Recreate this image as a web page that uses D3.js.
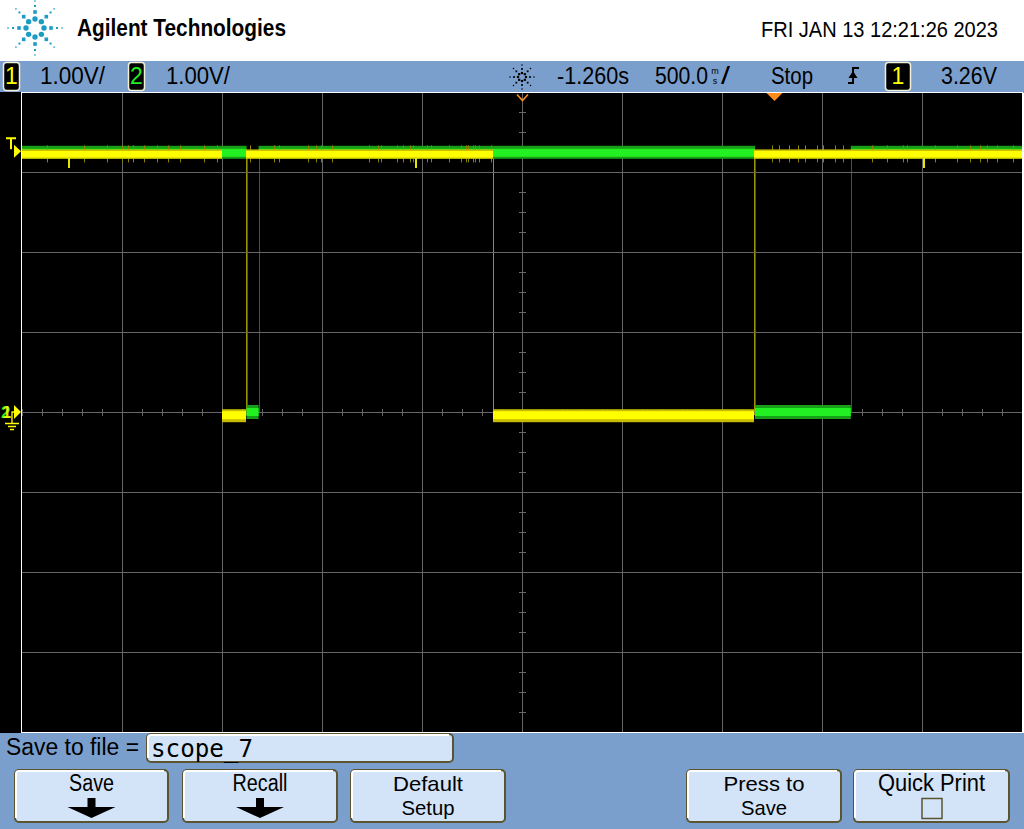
<!DOCTYPE html>
<html><head><meta charset="utf-8">
<script src="https://cdn.jsdelivr.net/npm/d3@7"></script>
<style>
html,body{margin:0;padding:0;background:#fff;overflow:hidden}
svg{display:block}
text{font-family:"Liberation Sans Narrow","Arial Narrow","Liberation Sans",Arial,sans-serif}
</style></head><body>
<svg id="c" width="1024" height="829"></svg>
<script>
const timeCenter = -1.260;      // s
const timePerDiv = 0.5;         // 500 ms/div
const voltsPerDiv = 1.0;        // both channels 1.00 V/div
const triggerLevel = 3.26;      // V
const triggerTime = 0;          // s
const ch1Edges  = [-3.76, -2.76, -2.64, -1.405, -0.10, 1.24];
const ch1Levels = [3.22, -0.04, 3.22, -0.04, 3.22];
const ch2Edges  = [-3.76, -2.637, -2.577, -0.095, 0.384, 1.24];
const ch2Levels = [3.24, 0.0, 3.24, 0.0, 3.24];
const ch1GlitchTimes = [-3.525, -1.79, 0.75];
const ch1GlitchVolts = [3.05, 3.05, 3.05];
const ch1NoiseTimes = [-3.635,-3.45,-3.335,-3.26,-3.23,-3.205,-3.15,-3.085,-3.03,-2.97,-2.85,-2.785,
  -2.62,-2.5,-2.475,-2.33,-2.29,-2.265,-2.21,-2.025,-1.98,-1.965,-1.885,-1.855,-1.82,-1.805,-1.735,
  -1.715,-1.625,-1.565,-1.54,-1.53,-1.505,-1.495,-1.475,-1.415,
  -0.01,0.025,0.075,0.12,0.155,0.215,0.245,0.305,0.345,0.49,0.565,0.645,0.665,0.805,0.915,0.98,1.03,1.065,1.115,1.195];
const brandText = "Agilent Technologies";
const dateText = "FRI JAN 13 12:21:26 2023";
const chScaleLabels = ["1.00V/", "1.00V/"];
const delayLabel = "-1.260s";
const timebaseLabel = "500.0";
const runLabel = "Stop";
const trigLevelLabel = "3.26V";
const fileLabel = "Save to file =";
const fileName = "scope_7";
const softkeys = [["Save"], ["Recall"], ["Default", "Setup"], ["Press to", "Save"], ["Quick Print"]];

// ---------- drawing ----------
const svg = d3.select("#c");
const BLUE = "#7b9fcc", KEY = "#d3e4f8", OLIVE = "#5c5430";

svg.append("rect").attr("width",1024).attr("height",829).attr("fill","#fff");
svg.append("rect").attr("x",0).attr("y",61).attr("width",1024).attr("height",32).attr("fill",BLUE);
svg.append("rect").attr("x",0).attr("y",733).attr("width",1024).attr("height",96).attr("fill",BLUE);
svg.append("rect").attr("x",0).attr("y",92).attr("width",1023).attr("height",641).attr("fill","#000");

const x = d3.scaleLinear().domain([timeCenter-5*timePerDiv, timeCenter+5*timePerDiv]).range([22,1022]);
const y = d3.scaleLinear().domain([-4*voltsPerDiv, 4*voltsPerDiv]).range([732,92]);

function segs(edges, levels){ return levels.map((v,i)=>({t0:edges[i], t1:edges[i+1], v})); }
const edgeLayer = svg.append("g");
function drawEdges(edges, levels, color){
  for(let i=1;i<levels.length;i++){
    const xx = Math.round(x(edges[i]))+0.5;
    edgeLayer.append("line").attr("x1",xx).attr("x2",xx).attr("y1",y(levels[i-1])).attr("y2",y(levels[i]))
      .attr("stroke",color).attr("stroke-width",1);
  }
}
drawEdges(ch2Edges, ch2Levels, "#0c7a0c");
drawEdges(ch1Edges, ch1Levels, "#9a9400");

// grid
const gridT = d3.range(1,10).map(i => x.domain()[0] + i*timePerDiv);
const gridV = d3.range(1,8).map(i => y.domain()[0] + i*voltsPerDiv).filter(v => v !== 0);
const gx = svg.append("g").attr("transform","translate(0,732)")
  .call(d3.axisBottom(x).tickValues(gridT.filter(t=>Math.abs(t-timeCenter)>1e-9)).tickSize(-640).tickFormat(""));
const gy = svg.append("g").attr("transform","translate(22,0)")
  .call(d3.axisLeft(y).tickValues(gridV).tickSize(-1000).tickFormat(""));
[gx,gy].forEach(g=>{g.select(".domain").remove(); g.selectAll("line").attr("stroke","#666");});

// centre crosshair with minor ticks
svg.append("line").attr("x1",x(timeCenter)+0.5).attr("x2",x(timeCenter)+0.5).attr("y1",92).attr("y2",732).attr("stroke","#666");
svg.append("line").attr("x1",22).attr("x2",1022).attr("y1",y(0)+0.5).attr("y2",y(0)+0.5).attr("stroke","#666");
const minorT = d3.range(0,51).map(i => x.domain()[0] + i*timePerDiv/5);
const minorV = d3.range(0,33).map(i => y.domain()[0] + i*voltsPerDiv/4);
const mx = svg.append("g").attr("transform",`translate(0,${y(0)-3})`).call(d3.axisBottom(x).tickValues(minorT).tickSize(7).tickFormat(""));
const my = svg.append("g").attr("transform",`translate(${x(timeCenter)-3},0)`).call(d3.axisRight(y).tickValues(minorV).tickSize(7).tickFormat(""));
[mx,my].forEach(g=>{g.select(".domain").remove(); g.selectAll("line").attr("stroke","#666");});

// frame
svg.append("rect").attr("x",21.5).attr("y",92.5).attr("width",1001).attr("height",640).attr("fill","none").attr("stroke","#fff");

// traces (bands)
function drawBands(edges, levels, st){
  const g = svg.append("g");
  const s = segs(edges, levels);
  g.selectAll(".o").data(s).join("rect")
    .attr("x",d=>x(d.t0)).attr("width",d=>x(d.t1)-x(d.t0))
    .attr("y",d=>y(d.v)+(d.v>1.5?st.hiO[0]:st.loO[0]))
    .attr("height",d=>d.v>1.5?st.hiO[1]-st.hiO[0]:st.loO[1]-st.loO[0])
    .attr("fill",st.outer);
  g.selectAll(".i").data(s).join("rect")
    .attr("x",d=>x(d.t0)).attr("width",d=>x(d.t1)-x(d.t0))
    .attr("y",d=>y(d.v)+(d.v>1.5?st.hiI[0]:st.loI[0]))
    .attr("height",d=>d.v>1.5?st.hiI[1]-st.hiI[0]:st.loI[1]-st.loI[0])
    .attr("fill",st.inner);
}
drawBands(ch2Edges, ch2Levels, {outer:"#17a017", inner:"#22f022",
  hiO:[-7,6], hiI:[-4,4], loO:[-7,7], loI:[-4,4]});
const lvl1 = t => ch1Levels[Math.max(0,Math.min(ch1Levels.length-1, d3.bisectRight(ch1Edges,t)-1))];
svg.append("g").selectAll("line").data(ch1NoiseTimes).join("line")
  .attr("x1",t=>Math.round(x(t))+0.5).attr("x2",t=>Math.round(x(t))+0.5)
  .attr("y1",t=>y(lvl1(t))-9).attr("y2",t=>y(lvl1(t))+8)
  .attr("stroke","#8c8400").attr("stroke-width",1);
drawBands(ch1Edges, ch1Levels, {outer:"#c8bc00", inner:"#ffff00",
  hiO:[-5,4.5], hiI:[-3.5,3.2], loO:[-6,7], loI:[-4,4]});
svg.append("g").selectAll("line").data(ch1GlitchTimes).join("line")
  .attr("x1",t=>x(t)).attr("x2",t=>x(t))
  .attr("y1",t=>y(lvl1(t))+2).attr("y2",(t,i)=>y(ch1GlitchVolts[i]))
  .attr("stroke","#e6e600").attr("stroke-width",2);

// markers: trigger level "T"
const ty = y(triggerLevel);
svg.append("path").attr("d",`M6,${ty-14}H16V${ty-12}H12V${ty-2}H10V${ty-12}H6Z`).attr("fill","#ffff00");
svg.append("path").attr("d",`M14,${ty-6.5}L21,${ty}L14,${ty+6.5}Z`).attr("fill","#ffff00");
// ground markers
const g0 = y(0);
svg.append("path").attr("d",`M14,${g0-7}L21,${g0}L14,${g0+7}Z`).attr("fill","#ffff00");
svg.append("text").attr("x",1).attr("y",g0+6).attr("font-size",17).attr("font-weight","bold").attr("fill","#22ee22").text("2");
svg.append("text").attr("x",2).attr("y",g0+6).attr("font-size",17).attr("font-weight","bold").attr("fill","#ffff00").text("1").attr("opacity",0.85);
svg.append("path").attr("d",`M14,${g0}H12V${g0+11}M5,${g0+11.5}H19M8,${g0+14.5}H16M10,${g0+17.5}H14`)
  .attr("stroke","#ffff00").attr("stroke-width",1.3).attr("fill","none");
// time reference & trigger markers at the top
const xc = x(timeCenter)+0.5, xt = x(triggerTime)+0.5;
svg.append("path").attr("d",`M${xc-5.5},94.5L${xc},100.5L${xc+5.5},94.5`).attr("stroke","#ff8c1a").attr("stroke-width",1.6).attr("fill","none");
svg.append("path").attr("d",`M${xt-8},93L${xt+8},93L${xt},101Z`).attr("fill","#ff8c1a");

// ---------- header ----------
const logo = svg.append("g").attr("transform","translate(35,28)").attr("fill","#1c9cc4");
const rings = [{r:9,s:5.4,c:true},{r:16,s:3.6},{r:22,s:2},{r:27,s:1.4}];
rings.forEach(rg=>{
  for(let k=0;k<8;k++){
    const a = k*Math.PI/4, cx = rg.r*Math.cos(a), cy = rg.r*Math.sin(a);
    if(rg.c) logo.append("circle").attr("cx",cx).attr("cy",cy).attr("r",rg.s/2);
    else logo.append("rect").attr("x",cx-rg.s/2).attr("y",cy-rg.s/2).attr("width",rg.s).attr("height",rg.s);
  }
});
svg.append("text").attr("x",77).attr("y",36).attr("font-size",23).attr("font-weight","bold")
  .attr("style","font-family:'Liberation Sans',Arial,sans-serif").attr("textLength",209).attr("lengthAdjust","spacingAndGlyphs").text(brandText);
svg.append("text").attr("x",761).attr("y",37).attr("font-size",22)
  .attr("textLength",237).attr("lengthAdjust","spacingAndGlyphs").text(dateText);

// ---------- status bar ----------
function chBox(x0,w,label,color){
  svg.append("rect").attr("x",x0+0.5).attr("y",62.5).attr("width",w).attr("height",28).attr("rx",3)
    .attr("fill","#000").attr("stroke","#f2efd8").attr("stroke-width",1.5);
  svg.append("text").attr("x",x0+0.5+w/2).attr("y",84).attr("text-anchor","middle").attr("font-size",23).attr("fill",color).text(label);
}
function stText(x0,w,s){
  svg.append("text").attr("x",x0).attr("y",84).attr("font-size",23).attr("textLength",w).attr("lengthAdjust","spacingAndGlyphs").text(s);
}
chBox(3,16,"1","#ffff00");
stText(40,65,chScaleLabels[0]);
chBox(128,16,"2","#22ee22");
stText(166,64,chScaleLabels[1]);
const acq = svg.append("g").attr("transform","translate(522,77)").attr("fill","#000");
[{r:4,s:2.2},{r:8,s:1.8},{r:12,s:1.3}].forEach(rg=>{
  for(let k=0;k<8;k++){const a=k*Math.PI/4;
    acq.append("rect").attr("x",rg.r*Math.cos(a)-rg.s/2).attr("y",rg.r*Math.sin(a)-rg.s/2).attr("width",rg.s).attr("height",rg.s);}
});
stText(557,72,delayLabel);
stText(655,53,timebaseLabel);
svg.append("text").attr("x",715).attr("y",73.5).attr("font-size",9).attr("text-anchor","middle").text("m");
svg.append("text").attr("x",715).attr("y",84).attr("font-size",9).attr("text-anchor","middle").text("s");
stText(721,9,"/");
stText(771,42,runLabel);
svg.append("path").attr("d","M848,83H853V68H859").attr("stroke","#000").attr("stroke-width",2).attr("fill","none");
svg.append("path").attr("d","M848.5,78L853,71L857.5,78Z").attr("fill","#000");
chBox(885,25,"1","#ffff00");
stText(941,56,trigLevelLabel);

// ---------- bottom softkey panel ----------
svg.append("text").attr("x",6).attr("y",755).attr("font-size",23).attr("textLength",133).attr("lengthAdjust","spacingAndGlyphs").text(fileLabel);
function keyBox(x0,y0,x1,y1){
  svg.append("rect").attr("x",x0).attr("y",y0).attr("width",x1-x0).attr("height",y1-y0).attr("rx",4)
    .attr("fill",KEY).attr("stroke",OLIVE).attr("stroke-width",2);
  svg.append("path").attr("d",`M${x0+1},${y1-4}V${y0+4}Q${x0+1},${y0+1} ${x0+4},${y0+1}H${x1-4}`)
    .attr("stroke","#fff").attr("stroke-width",2).attr("fill","none");
}
keyBox(147,734,453,762);
svg.append("text").attr("x",151).attr("y",757).attr("font-size",24)
  .attr("style","font-family:'DejaVu Sans Mono','Liberation Mono',monospace")
  .attr("textLength",102).attr("lengthAdjust","spacingAndGlyphs").text(fileName);

const keyX = [[15,168],[183,337],[351,505],[687,841],[854,1009]];
const keyW = [[45],[55],[70,53],[81,46],[107]];
softkeys.forEach((lines,i)=>{
  const [x0,x1] = keyX[i], cx=(x0+x1)/2;
  keyBox(x0,770,x1,822);
  lines.forEach((s,j)=>{
    svg.append("text").attr("x",cx).attr("y",j?815:791).attr("text-anchor","middle").attr("font-size",lines.length>1?21:23)
      .attr("textLength",keyW[i][j]).attr("lengthAdjust","spacingAndGlyphs").text(s);
  });
  if(i<2){
    svg.append("path").attr("d",`M${cx-4},798H${cx+4}V807H${cx+24}L${cx},818L${cx-24},807H${cx-4}Z`).attr("fill","#000");
  }
  if(i===4){
    svg.append("rect").attr("x",cx-9.5).attr("y",798.5).attr("width",20).attr("height",20).attr("fill",KEY)
      .attr("stroke",OLIVE).attr("stroke-width",1.5);
  }
});
</script>
</body></html>
